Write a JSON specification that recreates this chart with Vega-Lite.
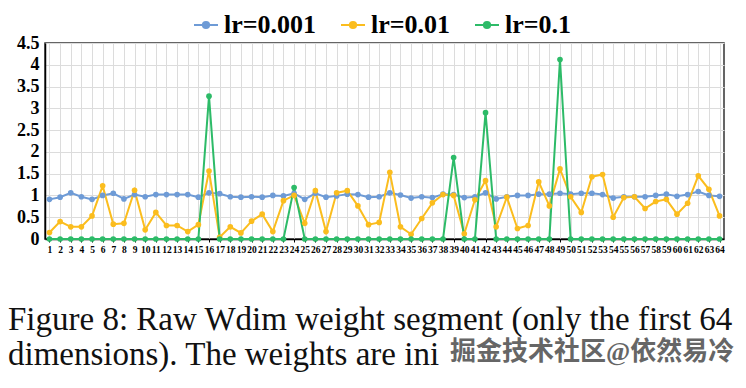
{
  "$schema": "https://vega.github.io/schema/vega-lite/v6.json",
  "autosize": {"type": "none"},
  "padding": {"left": 45, "top": 43, "right": 22, "bottom": 149},
  "width": 679,
  "height": 196,
  "background": "white",
  "config": {
    "view": {"stroke": "#333333", "strokeWidth": 1.5},
    "font": "Liberation Serif, Times New Roman, serif"
  },
  "title": {
    "text": ["Figure 8: Raw Wdim weight segment (only the first 64", "dimensions). The weights are ini"],
    "subtitle": "\u200b\u00a0\u00a0\u00a0\u00a0\u00a0\u00a0\u00a0\u00a0\u00a0\u00a0\u00a0\u00a0\u00a0\u00a0\u00a0\u00a0\u00a0\u00a0\u00a0\u00a0\u00a0\u00a0\u00a0\u00a0\u00a0\u00a0\u00a0\u00a0\u00a0\u00a0\u00a0\u00a0\u00a0\u00a0\u00a0\u00a0\u00a0\u00a0\u00a0\u00a0\u00a0\u00a0\u00a0\u00a0\u00a0\u00a0\u00a0\u00a0\u00a0\u00a0\u00a0\u00a0\u00a0\u00a0\u00a0\u00a0\u00a0\u00a0\u00a0\u00a0\u00a0\u00a0\u00a0\u00a0\u00a0\u00a0\u00a0\u00a0掘金技术社区@依然易冷",
    "orient": "bottom",
    "anchor": "start",
    "frame": "group",
    "dx": -37,
    "offset": 50,
    "font": "Liberation Serif, Noto Sans CJK SC, serif",
    "fontSize": 33,
    "fontWeight": "normal",
    "color": "#111111",
    "lineHeight": 35,
    "subtitleFont": "Liberation Serif, Noto Sans CJK SC, serif",
    "subtitleFontSize": 26,
    "subtitleColor": "#666666",
    "subtitleFontWeight": "bold",
    "subtitlePadding": -33
  },
  "data": {"values": [
    {"x":1,"lr":"lr=0.001","v":0.91},{"x":2,"lr":"lr=0.001","v":0.96},{"x":3,"lr":"lr=0.001","v":1.06},{"x":4,"lr":"lr=0.001","v":0.97},{"x":5,"lr":"lr=0.001","v":0.91},{"x":6,"lr":"lr=0.001","v":1.0},{"x":7,"lr":"lr=0.001","v":1.05},{"x":8,"lr":"lr=0.001","v":0.92},{"x":9,"lr":"lr=0.001","v":1.02},{"x":10,"lr":"lr=0.001","v":0.97},{"x":11,"lr":"lr=0.001","v":1.02},{"x":12,"lr":"lr=0.001","v":1.02},{"x":13,"lr":"lr=0.001","v":1.02},{"x":14,"lr":"lr=0.001","v":1.02},{"x":15,"lr":"lr=0.001","v":0.96},{"x":16,"lr":"lr=0.001","v":1.06},
    {"x":17,"lr":"lr=0.001","v":1.04},{"x":18,"lr":"lr=0.001","v":0.97},{"x":19,"lr":"lr=0.001","v":0.96},{"x":20,"lr":"lr=0.001","v":0.97},{"x":21,"lr":"lr=0.001","v":0.96},{"x":22,"lr":"lr=0.001","v":1.0},{"x":23,"lr":"lr=0.001","v":0.99},{"x":24,"lr":"lr=0.001","v":1.05},{"x":25,"lr":"lr=0.001","v":0.91},{"x":26,"lr":"lr=0.001","v":1.05},{"x":27,"lr":"lr=0.001","v":0.96},{"x":28,"lr":"lr=0.001","v":0.99},{"x":29,"lr":"lr=0.001","v":1.03},{"x":30,"lr":"lr=0.001","v":1.02},{"x":31,"lr":"lr=0.001","v":0.96},{"x":32,"lr":"lr=0.001","v":0.97},
    {"x":33,"lr":"lr=0.001","v":1.06},{"x":34,"lr":"lr=0.001","v":1.01},{"x":35,"lr":"lr=0.001","v":0.94},{"x":36,"lr":"lr=0.001","v":0.97},{"x":37,"lr":"lr=0.001","v":0.95},{"x":38,"lr":"lr=0.001","v":1.03},{"x":39,"lr":"lr=0.001","v":1.02},{"x":40,"lr":"lr=0.001","v":0.95},{"x":41,"lr":"lr=0.001","v":0.97},{"x":42,"lr":"lr=0.001","v":1.06},{"x":43,"lr":"lr=0.001","v":0.92},{"x":44,"lr":"lr=0.001","v":0.97},{"x":45,"lr":"lr=0.001","v":1.0},{"x":46,"lr":"lr=0.001","v":1.0},{"x":47,"lr":"lr=0.001","v":1.03},{"x":48,"lr":"lr=0.001","v":1.03},
    {"x":49,"lr":"lr=0.001","v":1.05},{"x":50,"lr":"lr=0.001","v":1.03},{"x":51,"lr":"lr=0.001","v":1.05},{"x":52,"lr":"lr=0.001","v":1.05},{"x":53,"lr":"lr=0.001","v":1.02},{"x":54,"lr":"lr=0.001","v":0.94},{"x":55,"lr":"lr=0.001","v":0.97},{"x":56,"lr":"lr=0.001","v":0.97},{"x":57,"lr":"lr=0.001","v":0.97},{"x":58,"lr":"lr=0.001","v":1.0},{"x":59,"lr":"lr=0.001","v":1.03},{"x":60,"lr":"lr=0.001","v":0.98},{"x":61,"lr":"lr=0.001","v":1.02},{"x":62,"lr":"lr=0.001","v":1.09},{"x":63,"lr":"lr=0.001","v":1.0},{"x":64,"lr":"lr=0.001","v":0.98},
    {"x":1,"lr":"lr=0.01","v":0.15},{"x":2,"lr":"lr=0.01","v":0.4},{"x":3,"lr":"lr=0.01","v":0.28},{"x":4,"lr":"lr=0.01","v":0.28},{"x":5,"lr":"lr=0.01","v":0.53},{"x":6,"lr":"lr=0.01","v":1.22},{"x":7,"lr":"lr=0.01","v":0.34},{"x":8,"lr":"lr=0.01","v":0.36},{"x":9,"lr":"lr=0.01","v":1.12},{"x":10,"lr":"lr=0.01","v":0.21},{"x":11,"lr":"lr=0.01","v":0.61},{"x":12,"lr":"lr=0.01","v":0.31},{"x":13,"lr":"lr=0.01","v":0.31},{"x":14,"lr":"lr=0.01","v":0.17},{"x":15,"lr":"lr=0.01","v":0.33},{"x":16,"lr":"lr=0.01","v":1.56},
    {"x":17,"lr":"lr=0.01","v":0.04},{"x":18,"lr":"lr=0.01","v":0.28},{"x":19,"lr":"lr=0.01","v":0.14},{"x":20,"lr":"lr=0.01","v":0.41},{"x":21,"lr":"lr=0.01","v":0.57},{"x":22,"lr":"lr=0.01","v":0.17},{"x":23,"lr":"lr=0.01","v":0.88},{"x":24,"lr":"lr=0.01","v":1.0},{"x":25,"lr":"lr=0.01","v":0.36},{"x":26,"lr":"lr=0.01","v":1.11},{"x":27,"lr":"lr=0.01","v":0.17},{"x":28,"lr":"lr=0.01","v":1.06},{"x":29,"lr":"lr=0.01","v":1.11},{"x":30,"lr":"lr=0.01","v":0.76},{"x":31,"lr":"lr=0.01","v":0.33},{"x":32,"lr":"lr=0.01","v":0.38},
    {"x":33,"lr":"lr=0.01","v":1.53},{"x":34,"lr":"lr=0.01","v":0.28},{"x":35,"lr":"lr=0.01","v":0.11},{"x":36,"lr":"lr=0.01","v":0.47},{"x":37,"lr":"lr=0.01","v":0.83},{"x":38,"lr":"lr=0.01","v":1.02},{"x":39,"lr":"lr=0.01","v":1.0},{"x":40,"lr":"lr=0.01","v":0.12},{"x":41,"lr":"lr=0.01","v":0.9},{"x":42,"lr":"lr=0.01","v":1.34},{"x":43,"lr":"lr=0.01","v":0.28},{"x":44,"lr":"lr=0.01","v":0.96},{"x":45,"lr":"lr=0.01","v":0.24},{"x":46,"lr":"lr=0.01","v":0.31},{"x":47,"lr":"lr=0.01","v":1.31},{"x":48,"lr":"lr=0.01","v":0.76},
    {"x":49,"lr":"lr=0.01","v":1.61},{"x":50,"lr":"lr=0.01","v":0.97},{"x":51,"lr":"lr=0.01","v":0.61},{"x":52,"lr":"lr=0.01","v":1.43},{"x":53,"lr":"lr=0.01","v":1.48},{"x":54,"lr":"lr=0.01","v":0.5},{"x":55,"lr":"lr=0.01","v":0.95},{"x":56,"lr":"lr=0.01","v":0.97},{"x":57,"lr":"lr=0.01","v":0.7},{"x":58,"lr":"lr=0.01","v":0.86},{"x":59,"lr":"lr=0.01","v":0.91},{"x":60,"lr":"lr=0.01","v":0.57},{"x":61,"lr":"lr=0.01","v":0.82},{"x":62,"lr":"lr=0.01","v":1.45},{"x":63,"lr":"lr=0.01","v":1.14},{"x":64,"lr":"lr=0.01","v":0.53},
    {"x":1,"lr":"lr=0.1","v":0},{"x":2,"lr":"lr=0.1","v":0},{"x":3,"lr":"lr=0.1","v":0},{"x":4,"lr":"lr=0.1","v":0},{"x":5,"lr":"lr=0.1","v":0},{"x":6,"lr":"lr=0.1","v":0},{"x":7,"lr":"lr=0.1","v":0},{"x":8,"lr":"lr=0.1","v":0},{"x":9,"lr":"lr=0.1","v":0},{"x":10,"lr":"lr=0.1","v":0},{"x":11,"lr":"lr=0.1","v":0},{"x":12,"lr":"lr=0.1","v":0},{"x":13,"lr":"lr=0.1","v":0},{"x":14,"lr":"lr=0.1","v":0},{"x":15,"lr":"lr=0.1","v":0},{"x":16,"lr":"lr=0.1","v":3.28},
    {"x":17,"lr":"lr=0.1","v":0},{"x":18,"lr":"lr=0.1","v":0},{"x":19,"lr":"lr=0.1","v":0},{"x":20,"lr":"lr=0.1","v":0},{"x":21,"lr":"lr=0.1","v":0},{"x":22,"lr":"lr=0.1","v":0},{"x":23,"lr":"lr=0.1","v":0},{"x":24,"lr":"lr=0.1","v":1.18},{"x":25,"lr":"lr=0.1","v":0},{"x":26,"lr":"lr=0.1","v":0},{"x":27,"lr":"lr=0.1","v":0},{"x":28,"lr":"lr=0.1","v":0},{"x":29,"lr":"lr=0.1","v":0},{"x":30,"lr":"lr=0.1","v":0},{"x":31,"lr":"lr=0.1","v":0},{"x":32,"lr":"lr=0.1","v":0},
    {"x":33,"lr":"lr=0.1","v":0},{"x":34,"lr":"lr=0.1","v":0},{"x":35,"lr":"lr=0.1","v":0},{"x":36,"lr":"lr=0.1","v":0},{"x":37,"lr":"lr=0.1","v":0},{"x":38,"lr":"lr=0.1","v":0},{"x":39,"lr":"lr=0.1","v":1.87},{"x":40,"lr":"lr=0.1","v":0},{"x":41,"lr":"lr=0.1","v":0},{"x":42,"lr":"lr=0.1","v":2.9},{"x":43,"lr":"lr=0.1","v":0},{"x":44,"lr":"lr=0.1","v":0},{"x":45,"lr":"lr=0.1","v":0},{"x":46,"lr":"lr=0.1","v":0},{"x":47,"lr":"lr=0.1","v":0},{"x":48,"lr":"lr=0.1","v":0},
    {"x":49,"lr":"lr=0.1","v":4.12},{"x":50,"lr":"lr=0.1","v":0},{"x":51,"lr":"lr=0.1","v":0},{"x":52,"lr":"lr=0.1","v":0},{"x":53,"lr":"lr=0.1","v":0},{"x":54,"lr":"lr=0.1","v":0},{"x":55,"lr":"lr=0.1","v":0},{"x":56,"lr":"lr=0.1","v":0},{"x":57,"lr":"lr=0.1","v":0},{"x":58,"lr":"lr=0.1","v":0},{"x":59,"lr":"lr=0.1","v":0},{"x":60,"lr":"lr=0.1","v":0},{"x":61,"lr":"lr=0.1","v":0},{"x":62,"lr":"lr=0.1","v":0},{"x":63,"lr":"lr=0.1","v":0},{"x":64,"lr":"lr=0.1","v":0}
  ]},
  "mark": {"type": "line", "strokeWidth": 2, "point": {"filled": true, "size": 32}},
  "encoding": {
    "x": {
      "field": "x", "type": "ordinal",
      "scale": {"type": "point", "padding": 0.42},
      "axis": {
        "title": null, "labelAngle": 0, "labelOverlap": false,
        "labelFont": "Liberation Serif, Times New Roman, serif", "labelFontWeight": "bold", "labelFontSize": 9.5, "labelColor": "#000000",
        "labelPadding": 2, "tickSize": 3, "tickColor": "#000000",
        "domainColor": "#000000", "domainWidth": 1.5,
        "grid": true, "gridColor": "#dcdcdc", "gridWidth": 1
      }
    },
    "y": {
      "field": "v", "type": "quantitative",
      "scale": {"domain": [0, 4.5], "nice": false},
      "axis": {
        "title": null, "values": [0, 0.5, 1, 1.5, 2, 2.5, 3, 3.5, 4, 4.5], "format": "~f",
        "labelFont": "Liberation Serif, Times New Roman, serif", "labelFontWeight": "bold", "labelFontSize": 18, "labelColor": "#000000",
        "labelPadding": 6, "tickSize": 0,
        "domainColor": "#000000", "domainWidth": 1.5,
        "grid": true, "gridColor": "#dcdcdc", "gridWidth": 1
      }
    },
    "color": {
      "field": "lr", "type": "nominal",
      "scale": {"domain": ["lr=0.001", "lr=0.01", "lr=0.1"], "range": ["#6e9bd6", "#fbbd1e", "#2dbb68"]},
      "legend": {
        "title": null, "orient": "none", "direction": "horizontal",
        "legendX": 148, "legendY": -31,
        "labelFont": "Liberation Serif, Times New Roman, serif", "labelFontWeight": "bold", "labelFontSize": 26, "labelColor": "#000000",
        "labelOffset": 5, "columnPadding": 20,
        "symbolType": "M-1,0L1,0M-0.26,0A0.26,0.26,0,1,1,0.26,0A0.26,0.26,0,1,1,-0.26,0Z",
        "symbolSize": 576, "symbolStrokeWidth": 2,
        "encode": {"symbols": {"update": {"fill": {"scale": "color", "field": "value"}, "stroke": {"scale": "color", "field": "value"}}}}
      }
    }
  }
}
